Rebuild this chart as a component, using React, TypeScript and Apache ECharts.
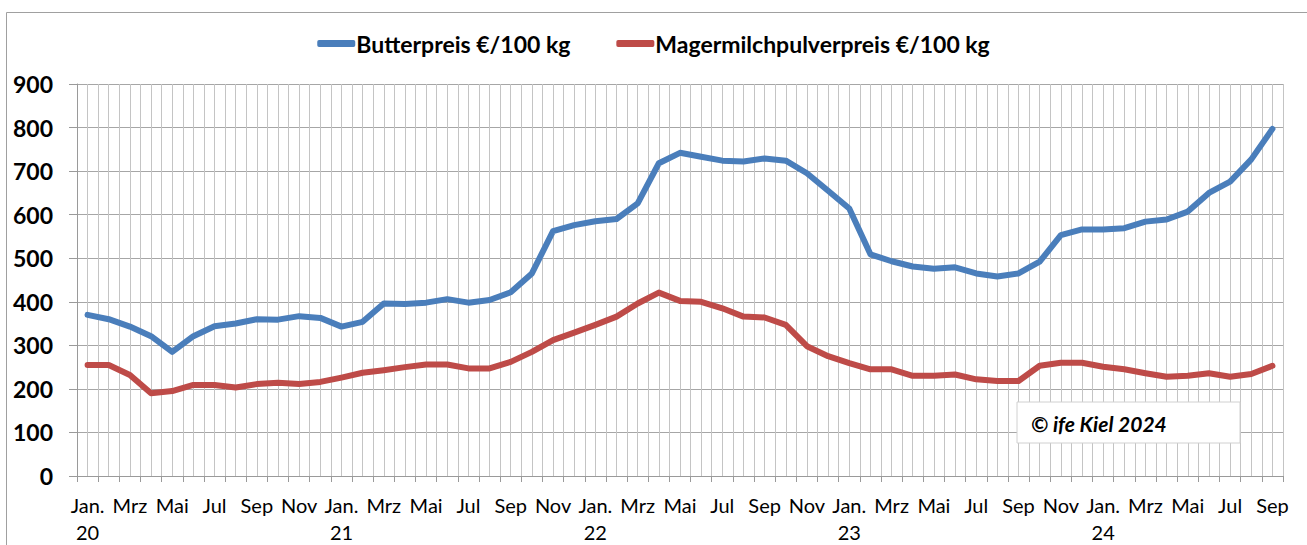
import React, { useEffect, useRef } from "react";
import * as echarts from "echarts";

const monthNames = ["Jan.", "Feb", "Mrz", "Apr", "Mai", "Jun", "Jul", "Aug", "Sep", "Okt", "Nov", "Dez"];
const yearLabels = ["20", "21", "22", "23", "24"];
const monthCount = 57; // Jan 2020 .. Sep 2024

const butterPrice = [370, 360, 343, 321, 285, 321, 344, 350, 360, 359, 367, 363, 343, 354, 396, 395, 398, 406, 398, 404, 422, 465, 562, 576, 585, 590, 626, 718, 742, 733, 724, 722, 729, 724, 695, 655, 614, 509, 493, 481, 476, 479, 465, 458, 465, 492, 553, 566, 566, 569, 584, 589, 607, 650, 676, 727, 797];
const skimPowderPrice = [255, 255, 232, 190, 195, 209, 209, 203, 211, 214, 211, 216, 226, 237, 243, 250, 256, 256, 247, 247, 262, 285, 312, 329, 347, 366, 396, 421, 402, 400, 385, 366, 364, 347, 298, 275, 259, 245, 245, 230, 230, 233, 222, 218, 218, 253, 260, 260, 251, 245, 236, 228, 230, 236, 228, 234, 253];
const yTicks = [0, 100, 200, 300, 400, 500, 600, 700, 800, 900];

const seriesNames = ["Butterpreis €/100 kg", "Magermilchpulverpreis €/100 kg"];
const copyrightText = "© ife Kiel 2024";

const categories: string[] = [];
for (let i = 0; i < monthCount; i++) {
  const m = i % 12;
  const y = Math.floor(i / 12);
  categories.push(m === 0 ? monthNames[m] + "\n" + yearLabels[y] : monthNames[m]);
}

const FONT = "Lato, 'Open Sans', sans-serif";

export default function App() {
  const ref = useRef<HTMLDivElement>(null);
  useEffect(() => {
    if (!ref.current) return;
    const chart = echarts.init(ref.current, undefined, { renderer: "svg" });
    chart.setOption({
      animation: false,
      backgroundColor: "#ffffff",
      textStyle: { fontFamily: FONT },
      legend: {
        top: 27,
        left: "center",
        itemGap: 46,
        itemWidth: 38,
        itemHeight: 7,
        icon: "roundRect",
        textStyle: { fontFamily: FONT, fontWeight: "bold", fontSize: 23, color: "#000", padding: [0, 0, 0, -4] },
        data: seriesNames,
      },
      grid: { left: 77, right: 24, top: 84, bottom: 69, containLabel: false },
      xAxis: [
        {
          type: "category",
          data: categories,
          boundaryGap: true,
          axisLine: { show: true, lineStyle: { color: "#9a9a9a", width: 1 } },
          axisTick: { show: true, interval: 0, length: 6, alignWithLabel: false, lineStyle: { color: "#9a9a9a" } },
          axisLabel: {
            interval: 1,
            fontFamily: FONT,
            fontSize: 20,
            color: "#000",
            margin: 15,
            lineHeight: 27,
          },
          splitLine: { show: false },
        },
        {
          type: "value",
          min: 0,
          max: monthCount * 2,
          interval: 1,
          position: "bottom",
          axisLine: { show: false },
          axisTick: { show: false },
          axisLabel: { show: false },
          splitLine: { show: true, lineStyle: { color: "#c4c4c4", width: 1 } },
        },
      ],
      yAxis: {
        type: "value",
        min: yTicks[0],
        max: yTicks[yTicks.length - 1],
        interval: 100,
        axisLine: { show: true, lineStyle: { color: "#9a9a9a" } },
        axisTick: { show: true, length: 8, lineStyle: { color: "#9a9a9a" } },
        axisLabel: { fontFamily: FONT, fontWeight: "bold", fontSize: 23, color: "#000", margin: 24 },
        splitLine: { show: true, lineStyle: { color: "#a6a6a6", width: 1 } },
      },
      series: [
        {
          name: seriesNames[0],
          type: "line",
          xAxisIndex: 0,
          data: butterPrice,
          symbol: "none",
          color: "#4a7ebb",
          lineStyle: { width: 6, color: "#4a7ebb", cap: "round", join: "round" },
          z: 3,
        },
        {
          name: seriesNames[1],
          type: "line",
          xAxisIndex: 0,
          data: skimPowderPrice,
          symbol: "none",
          color: "#be4b48",
          lineStyle: { width: 6, color: "#be4b48", cap: "round", join: "round" },
          z: 3,
        },
      ],
      graphic: [
        {
          type: "rect",
          left: 4,
          top: 10,
          shape: { x: 0, y: 0, width: 1302, height: 560 },
          style: { fill: "none", stroke: "#a0a0a0", lineWidth: 1 },
          silent: true,
          z: 0,
        },
        {
          type: "rect",
          x: 1017,
          y: 402,
          shape: { x: 0, y: 0, width: 223, height: 41 },
          style: { fill: "#ffffff", stroke: "#d0d0d0", lineWidth: 1 },
          z: 10,
        },
        {
          type: "text",
          x: 1031,
          y: 423,
          style: {
            text: copyrightText,
            fontFamily: FONT,
            fontWeight: "bold",
            fontStyle: "italic",
            fontSize: 21,
            fill: "#000",
            verticalAlign: "middle",
          },
          z: 11,
        },
      ],
    });
    return () => chart.dispose();
  }, []);
  return (
    <div
      ref={ref}
      style={{ position: "fixed", left: 0, top: 0, width: 1307, height: 545 }}
    />
  );
}
